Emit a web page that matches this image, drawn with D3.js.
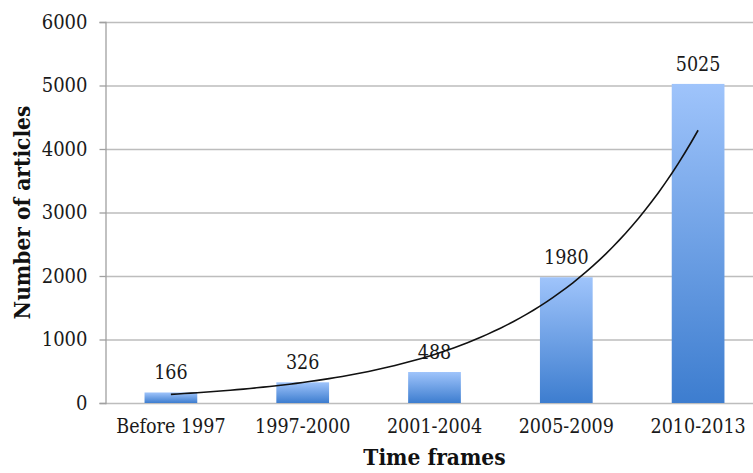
<!DOCTYPE html>
<html>
<head>
<meta charset="utf-8">
<script src="https://cdn.jsdelivr.net/npm/d3@7"></script>
<style>
  body { margin: 0; background: #fff; }
  text { font-family: "DejaVu Serif Condensed", "DejaVu Serif", serif; font-stretch: condensed; }
</style>
</head>
<body>
<script>
// data
var categories = ["Before 1997", "1997-2000", "2001-2004", "2005-2009", "2010-2013"];
var articles = [166, 326, 488, 1980, 5025];
var yTicks = [0, 1000, 2000, 3000, 4000, 5000, 6000];

var width = 753, height = 473;
var svg = d3.select("body").append("svg")
  .attr("width", width)
  .attr("height", height);

var x = d3.scaleBand()
  .domain(categories)
  .range([105, 764])
  .paddingInner(0.6)
  .paddingOuter(0.3);

var y = d3.scaleLinear()
  .domain([0, 6000])
  .range([403, 22]);

var defs = svg.append("defs");
var grad = defs.append("linearGradient")
  .attr("id", "barGrad")
  .attr("x1", 0).attr("y1", 0).attr("x2", 0).attr("y2", 1);
grad.append("stop").attr("offset", "0%").attr("stop-color", "#9fc4fb");
grad.append("stop").attr("offset", "100%").attr("stop-color", "#3d7dcf");

// gridlines
svg.append("g")
  .selectAll("line")
  .data(yTicks)
  .join("line")
  .attr("x1", 105).attr("x2", width)
  .attr("y1", d => y(d) + 0.5).attr("y2", d => y(d) + 0.5)
  .attr("stroke", "#bdbdbd")
  .attr("stroke-width", 1.3);

// y axis
var yAxis = svg.append("g")
  .attr("transform", "translate(105.5,0)")
  .call(d3.axisLeft(y).tickValues(yTicks).tickSize(6).tickPadding(12).tickFormat(d3.format("d")));
yAxis.select(".domain").attr("stroke", "#a0a0a0").attr("stroke-width", 1.3);
yAxis.selectAll(".tick line").attr("stroke", "#a0a0a0").attr("stroke-width", 1.3);
yAxis.selectAll(".tick text")
  .attr("font-size", 20)
  .attr("fill", "#1a1a1a")
  .style("font-family", '"DejaVu Serif Condensed", "DejaVu Serif", serif');

// bars
svg.append("g")
  .selectAll("rect")
  .data(articles)
  .join("rect")
  .attr("x", (d, i) => x(categories[i]))
  .attr("width", x.bandwidth())
  .attr("y", d => y(d))
  .attr("height", d => y(0) - y(d))
  .attr("fill", "url(#barGrad)");

// value labels
svg.append("g")
  .selectAll("text")
  .data(articles)
  .join("text")
  .attr("x", (d, i) => x(categories[i]) + x.bandwidth() / 2)
  .attr("y", d => y(d) - 13)
  .attr("text-anchor", "middle")
  .attr("font-size", 19.5)
  .attr("fill", "#1a1a1a")
  .text(d => d);

// x axis
var xAxis = svg.append("g")
  .attr("transform", "translate(0," + (y(0) + 0.5) + ")")
  .call(d3.axisBottom(x).tickSize(0).tickPadding(16));
xAxis.select(".domain").remove();
xAxis.selectAll(".tick text")
  .attr("font-size", 19.5)
  .attr("fill", "#1a1a1a")
  .style("font-family", '"DejaVu Serif Condensed", "DejaVu Serif", serif');

// exponential trendline: least-squares fit of ln(value) against 1..n
var idx = articles.map((d, i) => i + 1);
var lnv = articles.map(d => Math.log(d));
var mx = d3.mean(idx), my = d3.mean(lnv);
var b = d3.sum(idx, (d, i) => (d - mx) * (lnv[i] - my)) / d3.sum(idx, d => (d - mx) * (d - mx));
var a = Math.exp(my - b * mx);
var xi = d3.scaleLinear()
  .domain([1, categories.length])
  .range([x(categories[0]) + x.bandwidth() / 2, x(categories[categories.length - 1]) + x.bandwidth() / 2]);
var samples = d3.range(1, categories.length + 0.001, 0.05);
svg.append("path")
  .datum(samples)
  .attr("fill", "none")
  .attr("stroke", "#111")
  .attr("stroke-width", 1.6)
  .attr("d", d3.line().x(t => xi(t)).y(t => y(a * Math.exp(b * t))));

// axis titles
svg.append("text")
  .attr("transform", "translate(30," + ((y(0) + y(6000)) / 2) + ") rotate(-90)")
  .attr("text-anchor", "middle")
  .attr("font-size", 22.5)
  .attr("font-weight", "bold")
  .attr("fill", "#111")
  .text("Number of articles");

svg.append("text")
  .attr("x", (x.range()[0] + x.range()[1]) / 2)
  .attr("y", 465)
  .attr("text-anchor", "middle")
  .attr("font-size", 22.5)
  .attr("font-weight", "bold")
  .attr("fill", "#111")
  .text("Time frames");
</script>
</body>
</html>
